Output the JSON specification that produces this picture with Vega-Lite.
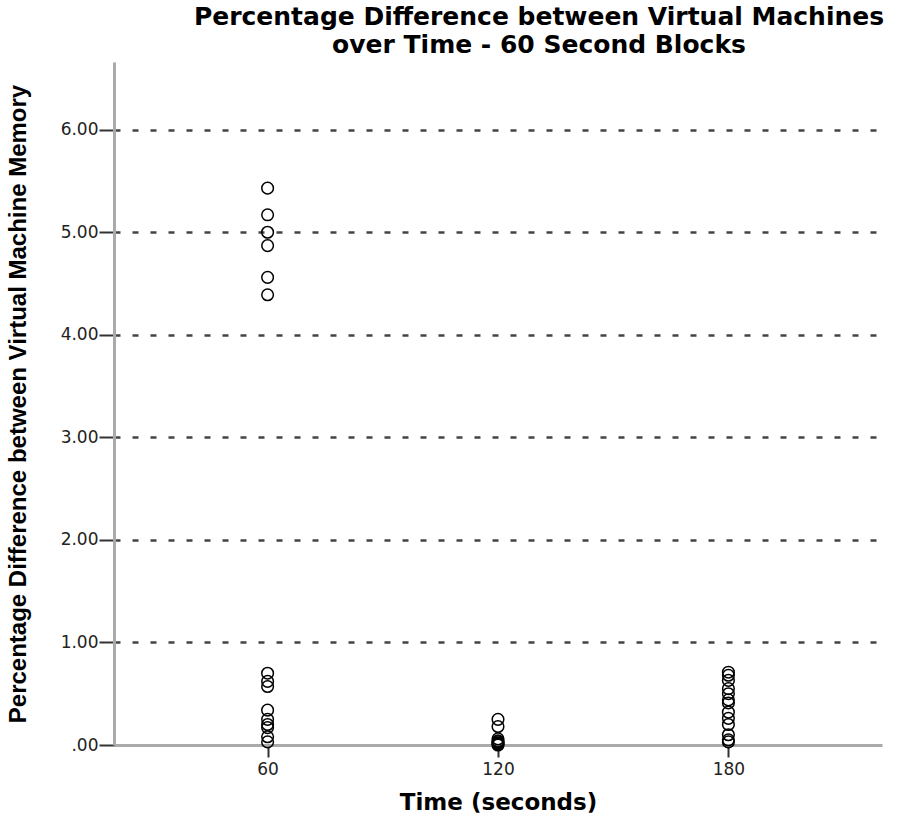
{
  "$schema": "https://vega.github.io/schema/vega-lite/v6.json",
  "autosize": "none",
  "padding": {"left": 114, "top": 62, "right": 30, "bottom": 78},
  "width": 768,
  "height": 683,
  "background": "white",
  "title": {
    "text": ["Percentage Difference between Virtual Machines", "over Time - 60 Second Blocks"],
    "font": "DejaVu Sans",
    "fontSize": 25,
    "fontWeight": "bold",
    "color": "#000",
    "anchor": "middle",
    "dx": 41,
    "dy": -4,
    "offset": 0,
    "lineHeight": 28,
    "baseline": "top"
  },
  "config": {
    "view": {"stroke": null},
    "axis": {"labelFont": "DejaVu Sans", "labelColor": "#222", "titleFont": "Liberation Sans", "titleColor": "#000"}
  },
  "data": {
    "values": [
      {"time": 60, "diff": 5.43}, {"time": 60, "diff": 5.17}, {"time": 60, "diff": 5.0},
      {"time": 60, "diff": 4.87}, {"time": 60, "diff": 4.56}, {"time": 60, "diff": 4.39},
      {"time": 60, "diff": 0.70}, {"time": 60, "diff": 0.62}, {"time": 60, "diff": 0.57},
      {"time": 60, "diff": 0.34}, {"time": 60, "diff": 0.25}, {"time": 60, "diff": 0.20},
      {"time": 60, "diff": 0.17}, {"time": 60, "diff": 0.08}, {"time": 60, "diff": 0.03},
      {"time": 120, "diff": 0.25}, {"time": 120, "diff": 0.18}, {"time": 120, "diff": 0.06},
      {"time": 120, "diff": 0.04}, {"time": 120, "diff": 0.03}, {"time": 120, "diff": 0.02},
      {"time": 120, "diff": 0.01}, {"time": 120, "diff": 0.0},
      {"time": 180, "diff": 0.71}, {"time": 180, "diff": 0.68}, {"time": 180, "diff": 0.63},
      {"time": 180, "diff": 0.55}, {"time": 180, "diff": 0.50}, {"time": 180, "diff": 0.44},
      {"time": 180, "diff": 0.41}, {"time": 180, "diff": 0.32}, {"time": 180, "diff": 0.26},
      {"time": 180, "diff": 0.20}, {"time": 180, "diff": 0.10}, {"time": 180, "diff": 0.05},
      {"time": 180, "diff": 0.03}
    ]
  },
  "mark": {"type": "point", "shape": "circle", "filled": false, "stroke": "#000", "strokeWidth": 1.5, "size": 135, "opacity": 1},
  "encoding": {
    "x": {
      "field": "time", "type": "quantitative",
      "scale": {"domain": [20, 220], "nice": false, "zero": false},
      "axis": {
        "values": [60, 120, 180],
        "title": "Time (seconds)",
        "titleFont": "DejaVu Sans",
        "titleFontSize": 23,
        "titleFontWeight": "bold",
        "titlePadding": 14,
        "grid": false,
        "domainColor": "#aaaaaa",
        "domainWidth": 3,
        "tickColor": "#333",
        "tickWidth": 2,
        "tickSize": 12,
        "labelFontSize": 17,
        "labelPadding": 4
      }
    },
    "y": {
      "field": "diff", "type": "quantitative",
      "scale": {"domain": [0, 6.66], "nice": false},
      "axis": {
        "values": [0, 1, 2, 3, 4, 5, 6],
        "labelExpr": "datum.value == 0 ? '.00' : format(datum.value, '.2f')",
        "title": "Percentage Difference between Virtual Machine Memory",
        "titleFontSize": 24,
        "titleFontWeight": "bold",
        "titlePadding": 30,
        "grid": true,
        "gridColor": "#444",
        "gridDash": [6, 12],
        "gridWidth": 2.5,
        "domainColor": "#aaaaaa",
        "domainWidth": 3,
        "tickColor": "#333",
        "tickWidth": 2,
        "tickSize": 15,
        "labelFontSize": 17,
        "labelPadding": 1
      }
    }
  }
}
